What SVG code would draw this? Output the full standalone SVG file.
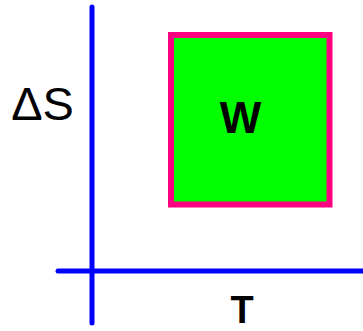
<svg xmlns="http://www.w3.org/2000/svg" width="363" height="331" viewBox="0 0 363 331">
<style>
.axis{stroke:#0000ff;stroke-width:5;stroke-linecap:round;fill:none}
.lbl{font-family:"Liberation Sans",Arial,sans-serif;fill:#000}
</style>
<rect width="363" height="331" fill="#fff"/>
<g id="area">
<rect x="171" y="35" width="158.5" height="169.5" fill="#00ff00" stroke="#ff0080" stroke-width="6"/>
<text class="lbl" x="240.5" y="133" font-size="44" font-weight="bold" text-anchor="middle">W</text>
</g>
<g id="axes">
<line class="axis" x1="92" y1="7" x2="92" y2="323"/>
<line class="axis" x1="58" y1="271" x2="366" y2="271"/>
</g>
<g id="labels">
<text class="lbl" x="42.5" y="120" font-size="47" text-anchor="middle">ΔS</text>
<text class="lbl" x="242" y="322.5" font-size="38" font-weight="bold" text-anchor="middle">T</text>
</g>
</svg>
